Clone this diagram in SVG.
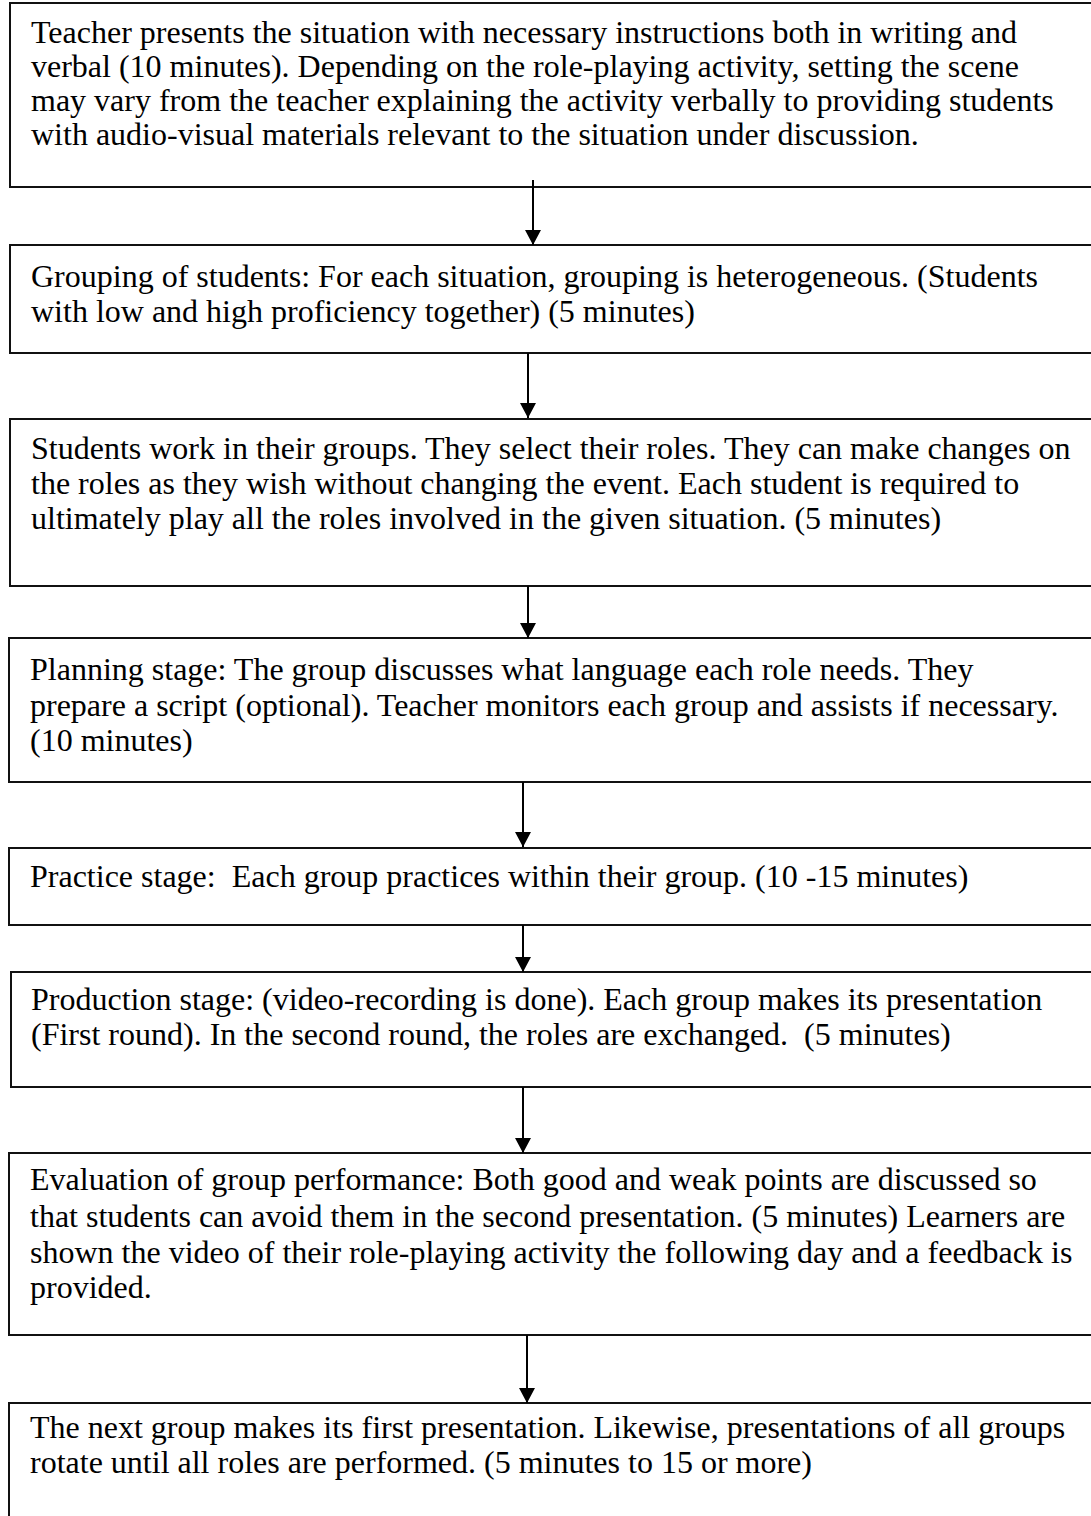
<svg xmlns="http://www.w3.org/2000/svg" width="1091" height="1516" viewBox="0 0 1091 1516">
<style>
.box{fill:#fff;stroke:#111;stroke-width:2}
.t{font-family:"Liberation Serif","Times New Roman",serif;font-size:32px;fill:#000;white-space:pre}
.c{stroke:#000;stroke-width:2;fill:none}
</style>
<defs>
<marker id="ah" markerUnits="userSpaceOnUse" markerWidth="16" markerHeight="16" viewBox="0 0 16 16" refX="15" refY="8" orient="auto">
<path d="M0,0 L15,8 L0,16 Z" fill="#000"/>
</marker>
</defs>
<rect width="1091" height="1516" fill="#fff"/>
<g id="n1">
<rect class="box" x="10" y="3" width="1100" height="184"/>
<text class="t" x="31" y="43">Teacher presents the situation with necessary instructions both in writing and</text>
<text class="t" x="31" y="77">verbal (10 minutes). Depending on the role-playing activity, setting the scene</text>
<text class="t" x="31" y="111">may vary from the teacher explaining the activity verbally to providing students</text>
<text class="t" x="31" y="145">with audio-visual materials relevant to the situation under discussion.</text>
</g>
<g id="n2">
<rect class="box" x="10" y="245" width="1100" height="108"/>
<text class="t" x="31" y="287">Grouping of students: For each situation, grouping is heterogeneous. (Students</text>
<text class="t" x="31" y="322">with low and high proficiency together) (5 minutes)</text>
</g>
<g id="n3">
<rect class="box" x="10" y="419" width="1100" height="167"/>
<text class="t" x="31" y="459">Students work in their groups. They select their roles. They can make changes on</text>
<text class="t" x="31" y="494">the roles as they wish without changing the event. Each student is required to</text>
<text class="t" x="31" y="529">ultimately play all the roles involved in the given situation. (5 minutes)</text>
</g>
<g id="n4">
<rect class="box" x="9" y="638" width="1100" height="144"/>
<text class="t" x="30" y="680">Planning stage: The group discusses what language each role needs. They</text>
<text class="t" x="30" y="716">prepare a script (optional). Teacher monitors each group and assists if necessary.</text>
<text class="t" x="30" y="751">(10 minutes)</text>
</g>
<g id="n5">
<rect class="box" x="9" y="848" width="1100" height="77"/>
<text class="t" x="30" y="887">Practice stage:  Each group practices within their group. (10 -15 minutes)</text>
</g>
<g id="n6">
<rect class="box" x="11" y="972" width="1100" height="115"/>
<text class="t" x="31" y="1010">Production stage: (video-recording is done). Each group makes its presentation</text>
<text class="t" x="31" y="1045">(First round). In the second round, the roles are exchanged.  (5 minutes)</text>
</g>
<g id="n7">
<rect class="box" x="9" y="1153" width="1100" height="182"/>
<text class="t" x="30" y="1190">Evaluation of group performance: Both good and weak points are discussed so</text>
<text class="t" x="30" y="1227">that students can avoid them in the second presentation. (5 minutes) Learners are</text>
<text class="t" x="30" y="1263">shown the video of their role-playing activity the following day and a feedback is</text>
<text class="t" x="30" y="1298">provided.</text>
</g>
<g id="n8">
<rect class="box" x="9" y="1403" width="1100" height="130"/>
<text class="t" x="30" y="1438">The next group makes its first presentation. Likewise, presentations of all groups</text>
<text class="t" x="30" y="1473">rotate until all roles are performed. (5 minutes to 15 or more)</text>
</g>
<g id="connectors">
<line class="c" x1="533" y1="180" x2="533" y2="245" marker-end="url(#ah)"/>
<line class="c" x1="528" y1="353" x2="528" y2="418" marker-end="url(#ah)"/>
<line class="c" x1="528" y1="586" x2="528" y2="638" marker-end="url(#ah)"/>
<line class="c" x1="523" y1="782" x2="523" y2="847" marker-end="url(#ah)"/>
<line class="c" x1="523" y1="925" x2="523" y2="972" marker-end="url(#ah)"/>
<line class="c" x1="523" y1="1087" x2="523" y2="1153" marker-end="url(#ah)"/>
<line class="c" x1="527" y1="1335" x2="527" y2="1403" marker-end="url(#ah)"/>
</g>
</svg>
